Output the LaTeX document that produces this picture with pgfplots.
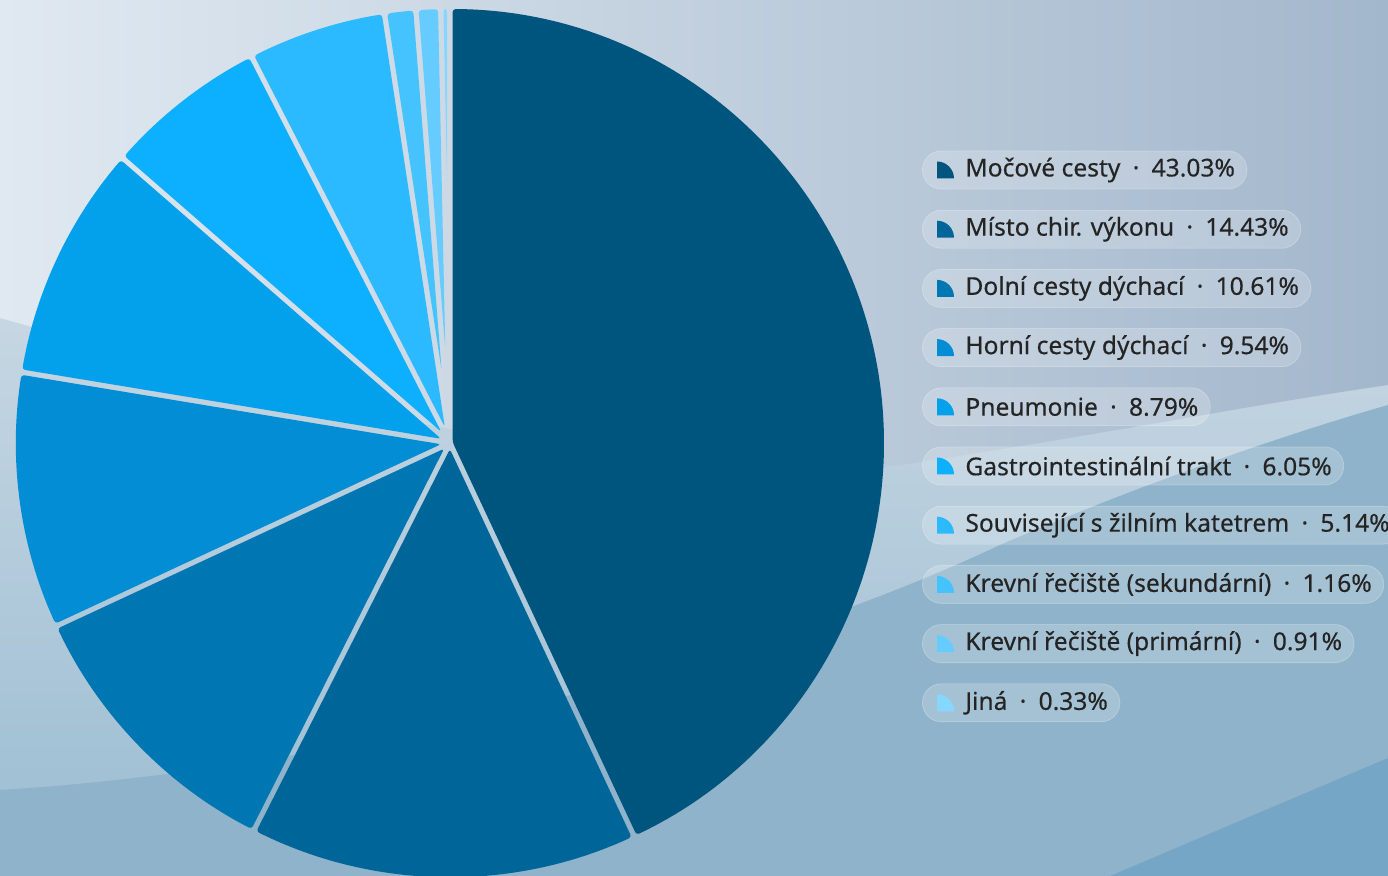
\documentclass[border=0pt]{standalone}
\usepackage{pgfplots}
\pgfplotsset{compat=1.18}
\usepackage{pgfplotstable}
\usepackage{fontspec}
\setmainfont{Noto Sans}
\newfontfamily\lgfont{Noto Sans}[FakeBold=0.35]

% slice colours, darkest first
\definecolor{c0}{HTML}{00557F}
\definecolor{c1}{HTML}{006699}
\definecolor{c2}{HTML}{0077B3}
\definecolor{c3}{HTML}{028DD4}
\definecolor{c4}{HTML}{03A0EC}
\definecolor{c5}{HTML}{0DB0FF}
\definecolor{c6}{HTML}{2BB9FF}
\definecolor{c7}{HTML}{45C3FF}
\definecolor{c8}{HTML}{66CCFF}
\definecolor{c9}{HTML}{86D7FF}
\definecolor{txt}{HTML}{242424}

\pgfplotstableread[col sep=comma]{
label,value
Močové cesty,43.03
Místo chir. výkonu,14.43
Dolní cesty dýchací,10.61
Horní cesty dýchací,9.54
Pneumonie,8.79
Gastrointestinální trakt,6.05
Související s žilním katetrem,5.14
Krevní řečiště (sekundární),1.16
Krevní řečiště (primární),0.91
Jiná,0.33
}\piedata

\def\gap{0.0062}% half gap, in radii

\begin{document}
\begin{tikzpicture}
\useasboundingbox (0,0) rectangle (694pt,-438pt);
\clip (0,0) rectangle (694pt,-438pt);

% background, in pixel units (y down)
\begin{scope}[x=0.5pt,y=-0.5pt]
  \fill[color={rgb,255:red,141;green,178;blue,201}] (0,0) rectangle (1388,876);
  \shade[top color={rgb,255:red,200;green,215;blue,227}, bottom color={rgb,255:red,160;green,192;blue,212}]
    (0,300) rectangle (1388,800);
  \fill[color={rgb,255:red,143;green,179;blue,202}]
    (0,790) .. controls (400,765) and (800,640) .. (1000,545)
    .. controls (1150,480) and (1300,430) .. (1388,405) -- (1388,876) -- (0,876) -- cycle;
  \shade[left color={rgb,255:red,224;green,233;blue,241}, right color={rgb,255:red,163;green,183;blue,204}]
    (0,0) -- (0,318) .. controls (400,430) and (700,490) .. (900,465)
    .. controls (1100,435) and (1250,405) .. (1388,385) -- (1388,0) -- cycle;
  \fill[color={rgb,255:red,118;green,166;blue,198}] (1110,876) -- (1388,758) -- (1388,876) -- cycle;
\end{scope}

\begin{axis}[
  at={(225pt,-221.5pt)}, anchor=center,
  x=217pt, y=217pt,
  xmin=-1.02, xmax=1.02, ymin=-1.02, ymax=1.02,
  hide axis, clip=false]
\pgfplotstablegetrowsof{\piedata}
\pgfmathtruncatemacro\lastrow{\pgfplotsretval-1}
\def\cum{0}
\pgfplotsforeachungrouped \i in {0,...,\lastrow}{
  \pgfplotstablegetelem{\i}{value}\of\piedata
  \let\val\pgfplotsretval
  \pgfmathsetmacro\ta{90-3.6*\cum}
  \pgfmathsetmacro\tb{90-3.6*(\cum+\val)}
  \pgfmathsetmacro\mid{(\ta+\tb)/2}
  \pgfmathsetmacro\apex{\gap/sin((\ta-\tb)/2)}
  \pgfmathsetmacro\dl{asin(\gap)}
  \pgfmathsetmacro\sa{\ta-\dl}
  \pgfmathsetmacro\sb{\tb+\dl}
  \pgfmathsetmacro\cum{\cum+\val}
  \edef\tmp{\noexpand\fill[c\i, rounded corners=1.5pt]
    (axis cs:{\apex*cos(\mid)},{\apex*sin(\mid)})
    -- (axis cs:{cos(\sa)},{sin(\sa)})
    arc[start angle=\sa, end angle=\sb, radius=217pt] -- cycle;}
  \tmp
}
\end{axis}

% legend pills
\begin{scope}[x=0.5pt,y=-0.5pt]
\pgfplotsforeachungrouped \i in {0,...,9}{
  \pgfplotstablegetelem{\i}{label}\of\piedata
  \let\lbl\pgfplotsretval
  \pgfplotstablegetelem{\i}{value}\of\piedata
  \let\val\pgfplotsretval
  \pgfmathsetmacro\yc{170+59.2*\i}
  \node[anchor=west, fill=white, fill opacity=0.2, draw=white, draw opacity=0.25,
        text opacity=1, rounded corners=9.5pt, minimum height=19pt, inner xsep=0pt,
        text=txt, font=\lgfont\fontsize{12.3}{15}\selectfont]
    at (922,\yc) {\hspace*{21.5pt}\lbl\hspace{0.5em}·\hspace{0.5em}\val\%\hspace*{6pt}};
  \fill[c\i] (937,\yc+8.5) -- ++(0,-17) arc[start angle=90, end angle=0, radius=8.5pt] -- cycle;
}
\end{scope}
\end{tikzpicture}
\end{document}
